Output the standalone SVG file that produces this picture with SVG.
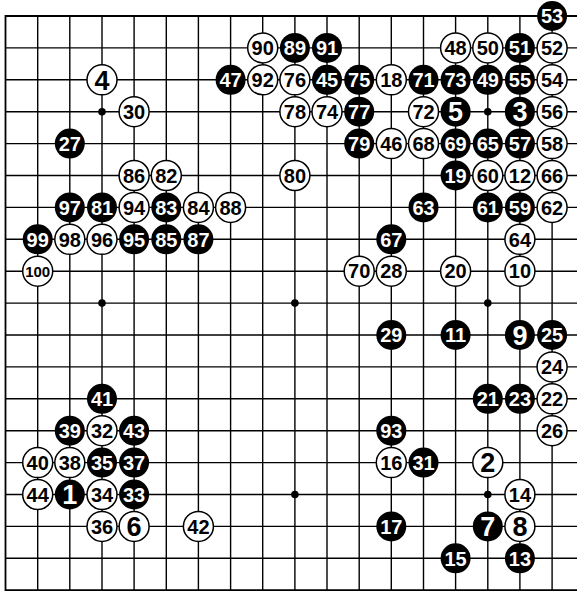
<svg xmlns="http://www.w3.org/2000/svg" width="577" height="592" viewBox="0 0 577 592">
<style>
.grid line{stroke:#000;stroke-width:1.4}
.edge{stroke:#000;stroke-width:1.8;fill:none}
.b circle{fill:#000}
.w circle{fill:#fff;stroke:#000;stroke-width:1.5}
text{font-family:"Liberation Sans",Arial,sans-serif;font-weight:bold;text-anchor:middle;font-size:20px}
.b text{fill:#fff}
.w text{fill:#000}
text.s{font-size:27px}
text.t{font-size:15px}
</style>
<rect width="577" height="592" fill="#fff"/>
<g id="connectors" class="grid">
<line x1="37.7" y1="16" x2="37.7" y2="590.2"/>
<line x1="69.8" y1="16" x2="69.8" y2="590.2"/>
<line x1="102" y1="16" x2="102" y2="590.2"/>
<line x1="134.1" y1="16" x2="134.1" y2="590.2"/>
<line x1="166.3" y1="16" x2="166.3" y2="590.2"/>
<line x1="198.4" y1="16" x2="198.4" y2="590.2"/>
<line x1="230.6" y1="16" x2="230.6" y2="590.2"/>
<line x1="262.7" y1="16" x2="262.7" y2="590.2"/>
<line x1="294.9" y1="16" x2="294.9" y2="590.2"/>
<line x1="327" y1="16" x2="327" y2="590.2"/>
<line x1="359.2" y1="16" x2="359.2" y2="590.2"/>
<line x1="391.3" y1="16" x2="391.3" y2="590.2"/>
<line x1="423.5" y1="16" x2="423.5" y2="590.2"/>
<line x1="455.6" y1="16" x2="455.6" y2="590.2"/>
<line x1="487.8" y1="16" x2="487.8" y2="590.2"/>
<line x1="519.9" y1="16" x2="519.9" y2="590.2"/>
<line x1="552.1" y1="16" x2="552.1" y2="590.2"/>
<line x1="5.5" y1="47.9" x2="577" y2="47.9"/>
<line x1="5.5" y1="79.8" x2="577" y2="79.8"/>
<line x1="5.5" y1="111.7" x2="577" y2="111.7"/>
<line x1="5.5" y1="143.6" x2="577" y2="143.6"/>
<line x1="5.5" y1="175.5" x2="577" y2="175.5"/>
<line x1="5.5" y1="207.4" x2="577" y2="207.4"/>
<line x1="5.5" y1="239.3" x2="577" y2="239.3"/>
<line x1="5.5" y1="271.2" x2="577" y2="271.2"/>
<line x1="5.5" y1="303.1" x2="577" y2="303.1"/>
<line x1="5.5" y1="335" x2="577" y2="335"/>
<line x1="5.5" y1="366.9" x2="577" y2="366.9"/>
<line x1="5.5" y1="398.8" x2="577" y2="398.8"/>
<line x1="5.5" y1="430.7" x2="577" y2="430.7"/>
<line x1="5.5" y1="462.6" x2="577" y2="462.6"/>
<line x1="5.5" y1="494.5" x2="577" y2="494.5"/>
<line x1="5.5" y1="526.4" x2="577" y2="526.4"/>
<line x1="5.5" y1="558.3" x2="577" y2="558.3"/>
<path class="edge" d="M577 16 H5.5 V590.2 H577"/>
</g>
<g id="hoshi" fill="#000">
<circle cx="102" cy="111.7" r="3.8"/>
<circle cx="487.8" cy="111.7" r="3.8"/>
<circle cx="102" cy="303.1" r="3.8"/>
<circle cx="294.9" cy="303.1" r="3.8"/>
<circle cx="487.8" cy="303.1" r="3.8"/>
<circle cx="294.9" cy="494.5" r="3.8"/>
<circle cx="487.8" cy="494.5" r="3.8"/>
</g>
<g id="stones">
<g id="m53" class="b" transform="translate(552.1,16)"><circle r="15"/><text y="7.2">53</text></g>
<g id="m90" class="w" transform="translate(262.7,47.9)"><circle r="15"/><text y="7.2">90</text></g>
<g id="m89" class="b" transform="translate(294.9,47.9)"><circle r="15"/><text y="7.2">89</text></g>
<g id="m91" class="b" transform="translate(327,47.9)"><circle r="15"/><text y="7.2">91</text></g>
<g id="m48" class="w" transform="translate(455.6,47.9)"><circle r="15"/><text y="7.2">48</text></g>
<g id="m50" class="w" transform="translate(487.8,47.9)"><circle r="15"/><text y="7.2">50</text></g>
<g id="m51" class="b" transform="translate(519.9,47.9)"><circle r="15"/><text y="7.2">51</text></g>
<g id="m52" class="w" transform="translate(552.1,47.9)"><circle r="15"/><text y="7.2">52</text></g>
<g id="m4" class="w" transform="translate(102,79.8)"><circle r="15"/><text class="s" y="9.7">4</text></g>
<g id="m47" class="b" transform="translate(230.6,79.8)"><circle r="15"/><text y="7.2">47</text></g>
<g id="m92" class="w" transform="translate(262.7,79.8)"><circle r="15"/><text y="7.2">92</text></g>
<g id="m76" class="w" transform="translate(294.9,79.8)"><circle r="15"/><text y="7.2">76</text></g>
<g id="m45" class="b" transform="translate(327,79.8)"><circle r="15"/><text y="7.2">45</text></g>
<g id="m75" class="b" transform="translate(359.2,79.8)"><circle r="15"/><text y="7.2">75</text></g>
<g id="m18" class="w" transform="translate(391.3,79.8)"><circle r="15"/><text y="7.2">18</text></g>
<g id="m71" class="b" transform="translate(423.5,79.8)"><circle r="15"/><text y="7.2">71</text></g>
<g id="m73" class="b" transform="translate(455.6,79.8)"><circle r="15"/><text y="7.2">73</text></g>
<g id="m49" class="b" transform="translate(487.8,79.8)"><circle r="15"/><text y="7.2">49</text></g>
<g id="m55" class="b" transform="translate(519.9,79.8)"><circle r="15"/><text y="7.2">55</text></g>
<g id="m54" class="w" transform="translate(552.1,79.8)"><circle r="15"/><text y="7.2">54</text></g>
<g id="m30" class="w" transform="translate(134.1,111.7)"><circle r="15"/><text y="7.2">30</text></g>
<g id="m78" class="w" transform="translate(294.9,111.7)"><circle r="15"/><text y="7.2">78</text></g>
<g id="m74" class="w" transform="translate(327,111.7)"><circle r="15"/><text y="7.2">74</text></g>
<g id="m77" class="b" transform="translate(359.2,111.7)"><circle r="15"/><text y="7.2">77</text></g>
<g id="m72" class="w" transform="translate(423.5,111.7)"><circle r="15"/><text y="7.2">72</text></g>
<g id="m5" class="b" transform="translate(455.6,111.7)"><circle r="15"/><text class="s" y="9.7">5</text></g>
<g id="m3" class="b" transform="translate(519.9,111.7)"><circle r="15"/><text class="s" y="9.7">3</text></g>
<g id="m56" class="w" transform="translate(552.1,111.7)"><circle r="15"/><text y="7.2">56</text></g>
<g id="m27" class="b" transform="translate(69.8,143.6)"><circle r="15"/><text y="7.2">27</text></g>
<g id="m79" class="b" transform="translate(359.2,143.6)"><circle r="15"/><text y="7.2">79</text></g>
<g id="m46" class="w" transform="translate(391.3,143.6)"><circle r="15"/><text y="7.2">46</text></g>
<g id="m68" class="w" transform="translate(423.5,143.6)"><circle r="15"/><text y="7.2">68</text></g>
<g id="m69" class="b" transform="translate(455.6,143.6)"><circle r="15"/><text y="7.2">69</text></g>
<g id="m65" class="b" transform="translate(487.8,143.6)"><circle r="15"/><text y="7.2">65</text></g>
<g id="m57" class="b" transform="translate(519.9,143.6)"><circle r="15"/><text y="7.2">57</text></g>
<g id="m58" class="w" transform="translate(552.1,143.6)"><circle r="15"/><text y="7.2">58</text></g>
<g id="m86" class="w" transform="translate(134.1,175.5)"><circle r="15"/><text y="7.2">86</text></g>
<g id="m82" class="w" transform="translate(166.3,175.5)"><circle r="15"/><text y="7.2">82</text></g>
<g id="m80" class="w" transform="translate(294.9,175.5)"><circle r="15"/><text y="7.2">80</text></g>
<g id="m19" class="b" transform="translate(455.6,175.5)"><circle r="15"/><text y="7.2">19</text></g>
<g id="m60" class="w" transform="translate(487.8,175.5)"><circle r="15"/><text y="7.2">60</text></g>
<g id="m12" class="w" transform="translate(519.9,175.5)"><circle r="15"/><text y="7.2">12</text></g>
<g id="m66" class="w" transform="translate(552.1,175.5)"><circle r="15"/><text y="7.2">66</text></g>
<g id="m97" class="b" transform="translate(69.8,207.4)"><circle r="15"/><text y="7.2">97</text></g>
<g id="m81" class="b" transform="translate(102,207.4)"><circle r="15"/><text y="7.2">81</text></g>
<g id="m94" class="w" transform="translate(134.1,207.4)"><circle r="15"/><text y="7.2">94</text></g>
<g id="m83" class="b" transform="translate(166.3,207.4)"><circle r="15"/><text y="7.2">83</text></g>
<g id="m84" class="w" transform="translate(198.4,207.4)"><circle r="15"/><text y="7.2">84</text></g>
<g id="m88" class="w" transform="translate(230.6,207.4)"><circle r="15"/><text y="7.2">88</text></g>
<g id="m63" class="b" transform="translate(423.5,207.4)"><circle r="15"/><text y="7.2">63</text></g>
<g id="m61" class="b" transform="translate(487.8,207.4)"><circle r="15"/><text y="7.2">61</text></g>
<g id="m59" class="b" transform="translate(519.9,207.4)"><circle r="15"/><text y="7.2">59</text></g>
<g id="m62" class="w" transform="translate(552.1,207.4)"><circle r="15"/><text y="7.2">62</text></g>
<g id="m99" class="b" transform="translate(37.7,239.3)"><circle r="15"/><text y="7.2">99</text></g>
<g id="m98" class="w" transform="translate(69.8,239.3)"><circle r="15"/><text y="7.2">98</text></g>
<g id="m96" class="w" transform="translate(102,239.3)"><circle r="15"/><text y="7.2">96</text></g>
<g id="m95" class="b" transform="translate(134.1,239.3)"><circle r="15"/><text y="7.2">95</text></g>
<g id="m85" class="b" transform="translate(166.3,239.3)"><circle r="15"/><text y="7.2">85</text></g>
<g id="m87" class="b" transform="translate(198.4,239.3)"><circle r="15"/><text y="7.2">87</text></g>
<g id="m67" class="b" transform="translate(391.3,239.3)"><circle r="15"/><text y="7.2">67</text></g>
<g id="m64" class="w" transform="translate(519.9,239.3)"><circle r="15"/><text y="7.2">64</text></g>
<g id="m100" class="w" transform="translate(37.7,271.2)"><circle r="15"/><text class="t" y="5.4">100</text></g>
<g id="m70" class="w" transform="translate(359.2,271.2)"><circle r="15"/><text y="7.2">70</text></g>
<g id="m28" class="w" transform="translate(391.3,271.2)"><circle r="15"/><text y="7.2">28</text></g>
<g id="m20" class="w" transform="translate(455.6,271.2)"><circle r="15"/><text y="7.2">20</text></g>
<g id="m10" class="w" transform="translate(519.9,271.2)"><circle r="15"/><text y="7.2">10</text></g>
<g id="m29" class="b" transform="translate(391.3,335)"><circle r="15"/><text y="7.2">29</text></g>
<g id="m11" class="b" transform="translate(455.6,335)"><circle r="15"/><text y="7.2">11</text></g>
<g id="m9" class="b" transform="translate(519.9,335)"><circle r="15"/><text class="s" y="9.7">9</text></g>
<g id="m25" class="b" transform="translate(552.1,335)"><circle r="15"/><text y="7.2">25</text></g>
<g id="m24" class="w" transform="translate(552.1,366.9)"><circle r="15"/><text y="7.2">24</text></g>
<g id="m41" class="b" transform="translate(102,398.8)"><circle r="15"/><text y="7.2">41</text></g>
<g id="m21" class="b" transform="translate(487.8,398.8)"><circle r="15"/><text y="7.2">21</text></g>
<g id="m23" class="b" transform="translate(519.9,398.8)"><circle r="15"/><text y="7.2">23</text></g>
<g id="m22" class="w" transform="translate(552.1,398.8)"><circle r="15"/><text y="7.2">22</text></g>
<g id="m39" class="b" transform="translate(69.8,430.7)"><circle r="15"/><text y="7.2">39</text></g>
<g id="m32" class="w" transform="translate(102,430.7)"><circle r="15"/><text y="7.2">32</text></g>
<g id="m43" class="b" transform="translate(134.1,430.7)"><circle r="15"/><text y="7.2">43</text></g>
<g id="m93" class="b" transform="translate(391.3,430.7)"><circle r="15"/><text y="7.2">93</text></g>
<g id="m26" class="w" transform="translate(552.1,430.7)"><circle r="15"/><text y="7.2">26</text></g>
<g id="m40" class="w" transform="translate(37.7,462.6)"><circle r="15"/><text y="7.2">40</text></g>
<g id="m38" class="w" transform="translate(69.8,462.6)"><circle r="15"/><text y="7.2">38</text></g>
<g id="m35" class="b" transform="translate(102,462.6)"><circle r="15"/><text y="7.2">35</text></g>
<g id="m37" class="b" transform="translate(134.1,462.6)"><circle r="15"/><text y="7.2">37</text></g>
<g id="m16" class="w" transform="translate(391.3,462.6)"><circle r="15"/><text y="7.2">16</text></g>
<g id="m31" class="b" transform="translate(423.5,462.6)"><circle r="15"/><text y="7.2">31</text></g>
<g id="m2" class="w" transform="translate(487.8,462.6)"><circle r="15"/><text class="s" y="9.7">2</text></g>
<g id="m44" class="w" transform="translate(37.7,494.5)"><circle r="15"/><text y="7.2">44</text></g>
<g id="m1" class="b" transform="translate(69.8,494.5)"><circle r="15"/><text class="s" y="9.7">1</text></g>
<g id="m34" class="w" transform="translate(102,494.5)"><circle r="15"/><text y="7.2">34</text></g>
<g id="m33" class="b" transform="translate(134.1,494.5)"><circle r="15"/><text y="7.2">33</text></g>
<g id="m14" class="w" transform="translate(519.9,494.5)"><circle r="15"/><text y="7.2">14</text></g>
<g id="m36" class="w" transform="translate(102,526.4)"><circle r="15"/><text y="7.2">36</text></g>
<g id="m6" class="w" transform="translate(134.1,526.4)"><circle r="15"/><text class="s" y="9.7">6</text></g>
<g id="m42" class="w" transform="translate(198.4,526.4)"><circle r="15"/><text y="7.2">42</text></g>
<g id="m17" class="b" transform="translate(391.3,526.4)"><circle r="15"/><text y="7.2">17</text></g>
<g id="m7" class="b" transform="translate(487.8,526.4)"><circle r="15"/><text class="s" y="9.7">7</text></g>
<g id="m8" class="w" transform="translate(519.9,526.4)"><circle r="15"/><text class="s" y="9.7">8</text></g>
<g id="m15" class="b" transform="translate(455.6,558.3)"><circle r="15"/><text y="7.2">15</text></g>
<g id="m13" class="b" transform="translate(519.9,558.3)"><circle r="15"/><text y="7.2">13</text></g>
</g>
</svg>
